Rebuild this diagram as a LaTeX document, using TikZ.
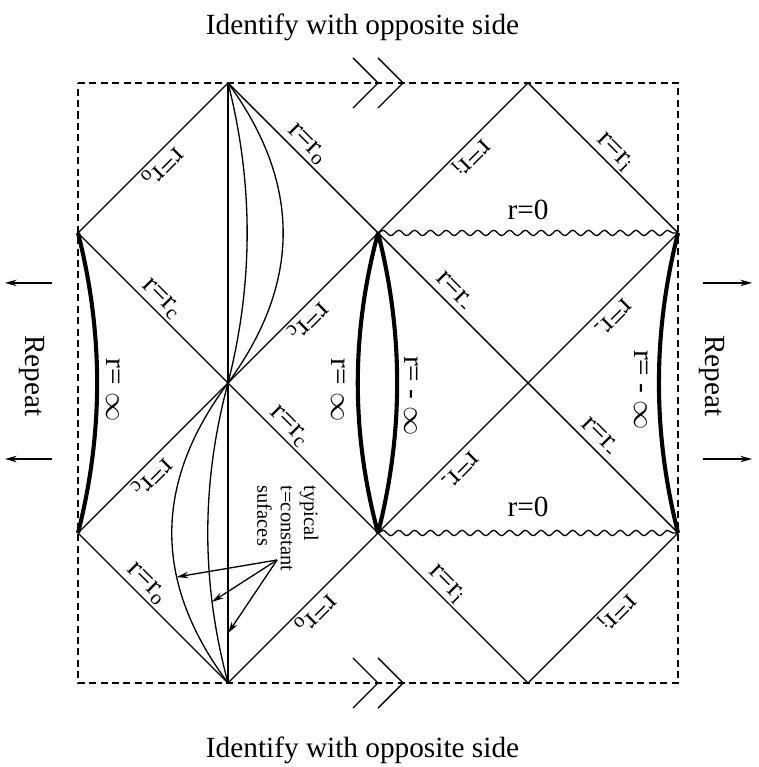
\documentclass[tikz,border=0pt]{standalone}
\usepackage{fontspec}
\setmainfont{Liberation Serif}
\usetikzlibrary{arrows.meta,decorations.pathmorphing}

\begin{document}
\begin{tikzpicture}[x=1.8cm, y=1.8cm, line width=0.45pt,
    lab/.style={sloped, allow upside down, above, inner sep=0.8pt},
    side/.style={rotate=-90, inner sep=0pt},
    wall/.style={line width=1.4pt},
    sing/.style={decorate, decoration={snake, amplitude=0.9pt, segment length=5.4pt}},
    frame/.style={dash pattern=on 2.4pt off 1.5pt},
    ptr/.style={-{Stealth[length=4pt, width=2.2pt]}}]

            \useasboundingbox (-0.52,-2.56) rectangle (4.533,2.553);

            % Corners of the diamonds
            \coordinate (n1) at (1,2);
            \coordinate (n2) at (3,2);
            \coordinate (w1) at (0,1);
            \coordinate (m1) at (2,1);
            \coordinate (e1) at (4,1);
            \coordinate (c1) at (1,0);
            \coordinate (c2) at (3,0);
            \coordinate (w2) at (0,-1);
            \coordinate (m2) at (2,-1);
            \coordinate (e2) at (4,-1);
            \coordinate (s1) at (1,-2);
            \coordinate (s2) at (3,-2);

            % Dashed frame
            \coordinate (tl) at (0,2);
            \coordinate (tr) at (4,2);
            \coordinate (br) at (4,-2);
            \coordinate (bl) at (0,-2);
            \draw[frame] (tl) -- (tr) -- (br) -- (bl) -- cycle;

            % Double arrows on the identified sides
            \foreach \y in {2,-2}
              \foreach \sh in {0,0.167}
                \draw (1.833+\sh,\y+0.167) -- (2+\sh,\y) -- (1.833+\sh,\y-0.167);
            \node (idtop) at (1.897,2.373) {Identify with opposite side};
            \node (idbot) at (1.897,-2.447) {Identify with opposite side};

            % Horizons, top row
            \draw (n1) -- node[lab, pos=0.5] {r=r\textsubscript{o}} (w1);
            \draw (n1) -- node[lab, pos=0.47] {r=r\textsubscript{o}} (m1);
            \draw (n2) -- node[lab, pos=0.44] {r=r\textsubscript{i}} (m1);
            \draw (n2) -- node[lab, pos=0.52] {r=r\textsubscript{i}} (e1);

            % Horizons, middle row
            \draw (w1) -- node[lab, pos=0.5] {r=r\textsubscript{c}} (c1);
            \draw (m1) -- node[lab, pos=0.53] {r=r\textsubscript{c}} (c1);
            \draw (m1) -- node[lab, pos=0.45] {r=r\textsubscript{-}} (c2);
            \draw (e1) -- node[lab, pos=0.5] {r=r\textsubscript{-}} (c2);
            \draw (c1) -- node[lab, pos=0.57] {r=r\textsubscript{c}} (w2);
            \draw (c1) -- node[lab, pos=0.35] {r=r\textsubscript{c}} (m2);
            \draw (c2) -- node[lab, pos=0.52] {r=r\textsubscript{-}} (m2);
            \draw (c2) -- node[lab, pos=0.42] {r=r\textsubscript{-}} (e2);

            % Horizons, bottom row
            \draw (w2) -- node[lab, pos=0.4] {r=r\textsubscript{o}} (s1);
            \draw (m2) -- node[lab, pos=0.48] {r=r\textsubscript{o}} (s1);
            \draw (m2) -- node[lab, pos=0.4] {r=r\textsubscript{i}} (s2);
            \draw (e2) -- node[lab, pos=0.47] {r=r\textsubscript{i}} (s2);

            % t = constant surfaces
            \draw (n1) -- coordinate[pos=0.917] (t0) (s1);
            \draw (n1) .. controls (1.17,1.33) and (1.17,0.67) .. (c1)
                  .. controls (0.82,-0.67) and (0.82,-1.33) .. coordinate[pos=0.73] (t1) (s1);
            \draw (n1) .. controls (1.49,1.33) and (1.49,0.67) .. (c1)
                  .. controls (0.5,-0.67) and (0.5,-1.33) .. coordinate[pos=0.647] (t2) (s1);

            % r = infinity boundaries
            \draw[wall] (w1) .. controls (0.17,0.33) and (0.17,-0.33) .. (w2);
            \draw[wall] (m1) .. controls (1.82,0.33) and (1.82,-0.33) .. (m2);
            \draw[wall] (m1) .. controls (2.17,0.33) and (2.17,-0.33) .. (m2);
            \draw[wall] (e1) .. controls (3.83,0.33) and (3.83,-0.33) .. (e2);
            \node[side] (inf1) at (0.233,-0.047) {r= $\infty$};
            \node[side] (inf2) at (1.733,-0.047) {r= $\infty$};
            \node[side] (ninf1) at (2.22,-0.087) {r= - $\infty$};
            \node[side] (ninf2) at (3.753,-0.047) {r= - $\infty$};

            % Singularities
            \draw[sing] (m1) -- node[midway, above=1pt] {r=0} (e1);
            \draw[sing] (m2) -- node[midway, above=2pt] {r=0} (e2);

            % Pointers to the surfaces
            \node[side, anchor=north west, align=left, font=\scriptsize] (typ) at (1.607,-0.68)
                  {typical\\t=constant\\sufaces};
            \coordinate (src) at (1.327,-1.18);
            \draw[ptr] (src) -- (t2);
            \draw[ptr] (src) -- (t1);
            \draw[ptr] (src) -- (t0);

            % Repeat arrows
            \node[side] (repl) at (-0.307,0.047) {Repeat};
            \node[side] (repr) at (4.227,0.047) {Repeat};
            \coordinate (la1) at (-0.173,0.667);
            \coordinate (la2) at (-0.487,0.667);
            \coordinate (la3) at (-0.173,-0.507);
            \coordinate (la4) at (-0.487,-0.507);
            \coordinate (ra1) at (4.167,0.667);
            \coordinate (ra2) at (4.493,0.667);
            \coordinate (ra3) at (4.167,-0.507);
            \coordinate (ra4) at (4.493,-0.507);
            \draw[ptr] (la1) -- (la2);
            \draw[ptr] (la3) -- (la4);
            \draw[ptr] (ra1) -- (ra2);
            \draw[ptr] (ra3) -- (ra4);
        \end{tikzpicture}
\end{document}
